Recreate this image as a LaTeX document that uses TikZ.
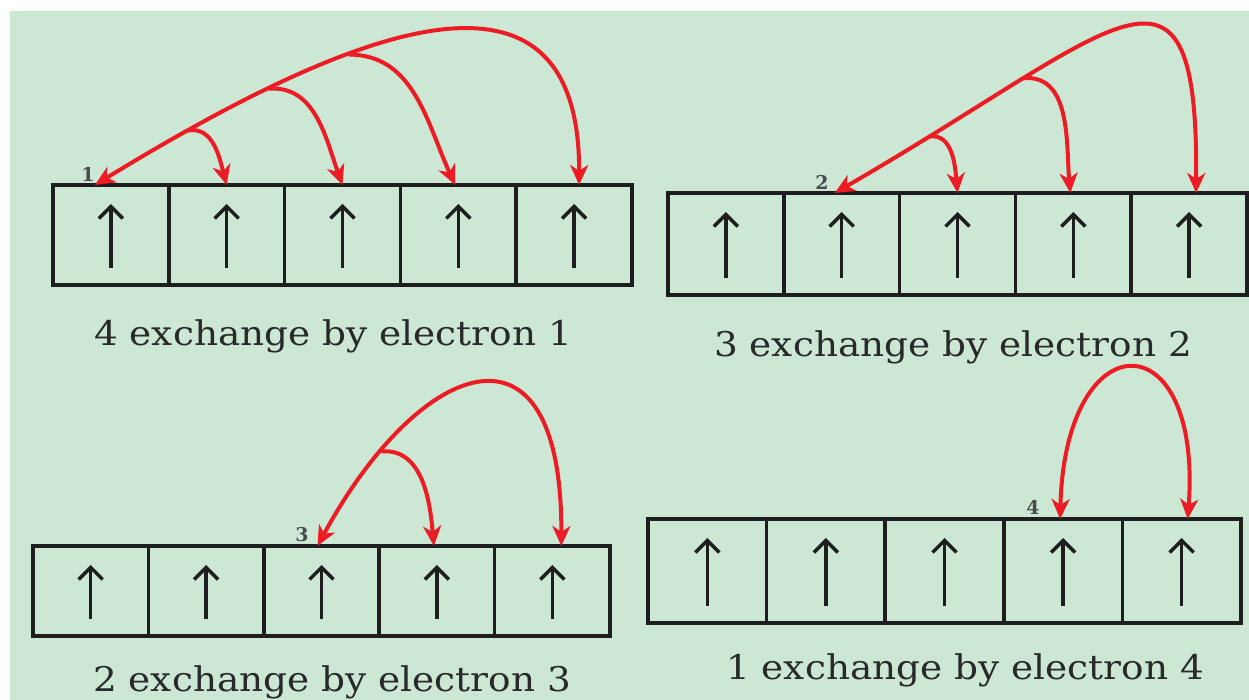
\documentclass[tikz,border=0pt]{standalone}
\usepackage{fontspec}
\setmainfont{DejaVu Serif}
\newfontfamily\capfont[FakeStretch=1.1]{DejaVu Serif}
\usetikzlibrary{positioning,arrows.meta}
\definecolor{paper}{RGB}{204,232,212}
\definecolor{hopred}{RGB}{237,28,36}
\definecolor{ink}{RGB}{30,30,30}

\begin{document}
\begin{tikzpicture}[x=1pt,y=1pt,
		cell/.style={draw=ink,line width=3.5pt,inner sep=0pt,outer sep=0pt},
		spin/.style={draw=ink,line width=3.5pt,-{Straight Barb[length=12pt,width=24pt]}},
		hop/.style={draw=hopred,line width=4pt,-{Stealth[length=20pt,width=18pt,inset=6pt]}},
		twohop/.style={hop,{Stealth[length=20pt,width=18pt,inset=6pt]}-{Stealth[length=20pt,width=18pt,inset=6pt]}},
		num/.style={text=ink!80,font=\bfseries\fontsize{19}{21}\selectfont},
		caption/.style={text=ink!95,anchor=base,font=\capfont\fontsize{34}{40}\selectfont}]
	
	\fill[white] (0,0) rectangle (1249,700);
	\fill[paper] (10,0) rectangle (1249,689);
	\useasboundingbox (0,0) rectangle (1249,700);
	
	% the four rows of five boxes
	\foreach \r/\x/\y/\w/\h in {a/110.9/465/115.8/100,b/725.9/456/115.8/102,c/90.7/109/115.4/90,d/707.3/129/118.6/104}{
		\node[cell,minimum width=\w pt,minimum height=\h pt] (\r1) at (\x,\y) {};
		\foreach \i [count=\j from 2] in {1,...,4}
			\node[cell,minimum width=\w pt,minimum height=\h pt,right=0pt of \r\i] (\r\j) {};
		\foreach \i in {1,...,5}
			\draw[spin] ([yshift=17pt]\r\i.south) -- ([yshift=-19pt]\r\i.north);
	}
	
	% electron 1
	\draw[twohop] ([xshift=5pt]a5.north) .. controls +(1,245) and +(265,162) .. ([xshift=-16pt]a1.north)
		coordinate[pos=.65] (a-k3) coordinate[pos=.77] (a-k2) coordinate[pos=.88] (a-k1);
	\draw[hop] (a-k1) to[out=10,in=105] (a2.north);
	\draw[hop] (a-k2) to[out=5,in=110] (a3.north);
	\draw[hop] (a-k3) to[out=0,in=115] ([xshift=-3pt]a4.north);
	
	% electron 2
	\draw[twohop] ([xshift=7pt]b5.north) .. controls +(2,273) and +(286,165) .. ([xshift=-7pt]b2.north)
		coordinate[pos=.73] (b-k2) coordinate[pos=.88] (b-k1);
	\draw[hop] (b-k1) to[out=10,in=95] (b3.north);
	\draw[hop] (b-k2) to[out=5,in=95] ([xshift=-3pt]b4.north);
	
	% electron 3
	\draw[twohop] ([xshift=9pt]c5.north) .. controls +(1,245) and +(100,185) .. ([xshift=-4pt]c3.north)
		coordinate[pos=.8] (c-k1);
	\draw[hop] (c-k1) to[out=5,in=95] ([xshift=-3pt]c4.north);
	
	% electron 4
	\draw[twohop] ([xshift=-3pt]d4.north) .. controls +(5,200) and +(15,200) .. ([xshift=6pt]d5.north);
	
	\node[num] (n1) at (88,526) {1};
	\node[num] (n2) at (822,518) {2};
	\node[num] (n3) at (302,165) {3};
	\node[num] (n4) at (1033,193) {4};
	
	\node[caption] (capa) at (333,354) {4 exchange by electron 1};
	\node[caption] (capb) at (953,343) {3 exchange by electron 2};
	\node[caption] (capc) at (332,8) {2 exchange by electron 3};
	\node[caption] (capd) at (965,20) {1 exchange by electron 4};
\end{tikzpicture}
\end{document}
